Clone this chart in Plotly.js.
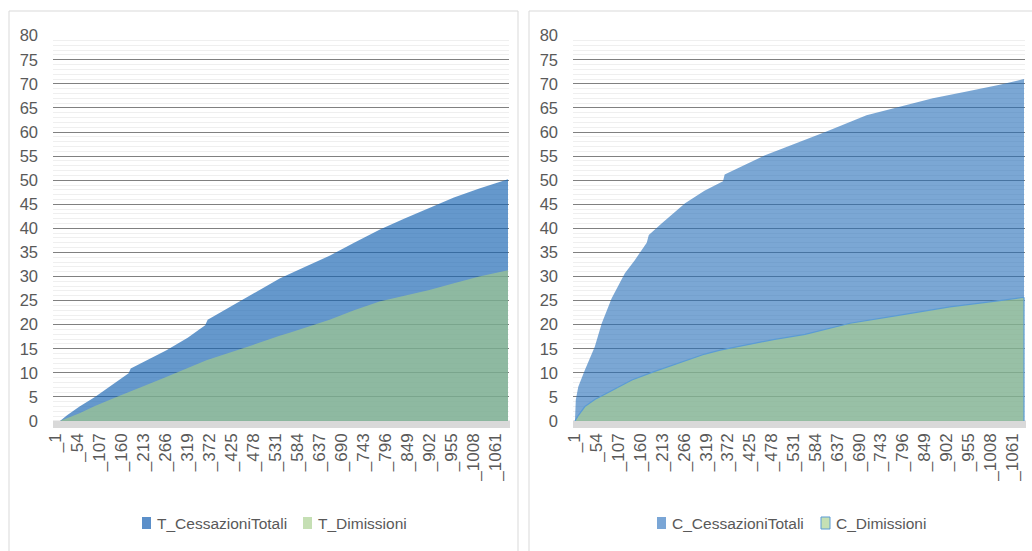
<!DOCTYPE html>
<html>
<head>
<meta charset="utf-8">
<script src="https://cdn.plot.ly/plotly-3.0.1.min.js"></script>
<style>
  html, body { margin: 0; padding: 0; background: #ffffff; }
  #chart { width: 1032px; height: 551px; }
</style>
</head>
<body>
<div id="chart"></div>
<script>
// Cumulative curves, sampled at category index positions (1..1090)
const tTotCats = [1, 13, 30, 60, 97, 140, 178, 183, 220, 269, 320, 362, 368, 420, 470, 541, 600, 661, 720, 781, 840, 901, 960, 1021, 1090];
const tTotVals = [0, 0, 1.2, 3.0, 5.0, 7.6, 9.9, 10.9, 12.6, 14.7, 17.3, 19.9, 21.0, 23.6, 26.0, 29.6, 31.9, 34.3, 37.0, 39.7, 42.0, 44.2, 46.4, 48.3, 50.2];

const tDimCats = [1, 13, 60, 97, 149, 181, 261, 365, 445, 477, 541, 565, 661, 720, 781, 840, 901, 960, 1021, 1090];
const tDimVals = [0, 0, 1.6, 3.1, 5.0, 6.1, 8.9, 12.6, 15.0, 15.8, 17.7, 18.3, 21.0, 23.0, 24.8, 26.0, 27.2, 28.6, 30.0, 31.3];

const cTotCats = [1, 3, 9, 25, 49, 66, 90, 122, 146, 175, 180, 211, 268, 315, 360, 364, 462, 559, 611, 708, 789, 869, 951, 1031, 1090];
const cTotVals = [0, 4.4, 7.1, 10.6, 15.4, 20.3, 25.5, 30.7, 33.4, 37.0, 38.6, 41.0, 45.2, 47.8, 49.8, 51.2, 55.2, 58.3, 60.1, 63.5, 65.2, 67.0, 68.4, 69.8, 71.0];

const cDimCats = [1, 8, 25, 50, 70, 100, 139, 191, 219, 270, 316, 353, 421, 482, 559, 668, 789, 910, 1031, 1090];
const cDimVals = [0, 1.0, 3.0, 4.5, 5.4, 6.8, 8.5, 10.2, 11.0, 12.6, 13.9, 14.7, 15.9, 16.9, 18.0, 20.3, 22.0, 23.7, 25.0, 25.7];

const tickCats = [1, 54, 107, 160, 213, 266, 319, 372, 425, 478, 531, 584, 637, 690, 743, 796, 849, 902, 955, 1008, 1061];
const tickLabels = ['_1', '_54', '_107', '_160', '_213', '_266', '_319', '_372', '_425', '_478', '_531', '_584', '_637', '_690', '_743', '_796', '_849', '_902', '_955', '_1008', '_1061'];

const seriesNames = ['T_CessazioniTotali', 'T_Dimissioni', 'C_CessazioniTotali', 'C_Dimissioni'];

const W = 1032, H = 551;
const px = v => v / W;          // horizontal pixel -> paper
const py = v => 1 - v / H;      // vertical pixel -> paper

const FONT = '"Liberation Sans", Arial, sans-serif';
const TXT = '#595959';

const traces = [
  { x: tTotCats, y: tTotVals, name: seriesNames[0], type: 'scatter', mode: 'lines',
    fill: 'tozeroy', fillcolor: 'rgba(18,97,177,0.65)', line: { width: 0 },
    xaxis: 'x', yaxis: 'y', hoverinfo: 'skip' },
  { x: tDimCats, y: tDimVals, name: seriesNames[1], type: 'scatter', mode: 'lines',
    fill: 'tozeroy', fillcolor: 'rgba(176,214,126,0.55)', line: { width: 0 },
    xaxis: 'x', yaxis: 'y', hoverinfo: 'skip' },
  { x: cTotCats, y: cTotVals, name: seriesNames[2], type: 'scatter', mode: 'lines',
    fill: 'tozeroy', fillcolor: 'rgba(35,108,183,0.6)', line: { width: 0 },
    xaxis: 'x2', yaxis: 'y2', hoverinfo: 'skip' },
  { x: cDimCats, y: cDimVals, name: seriesNames[3], type: 'scatter', mode: 'lines',
    fill: 'tozeroy', fillcolor: 'rgba(176,214,128,0.55)', line: { width: 1.2, color: '#5b9bd5' },
    xaxis: 'x2', yaxis: 'y2', hoverinfo: 'skip' }
];

function xAxis(domain, anchor) {
  return {
    domain: domain, anchor: anchor, range: [-3.8, 1092.4],
    tickmode: 'array', tickvals: tickCats, ticktext: tickLabels, tickangle: -90,
    showgrid: false, zeroline: false, showline: false, ticks: '',
    ticklabelstandoff: 8,
    tickfont: { family: FONT, size: 17, color: TXT }, fixedrange: true
  };
}
function yAxis(anchor) {
  return {
    domain: [py(421), py(35.7)], anchor: anchor, range: [0, 80],
    dtick: 5, tick0: 0, gridcolor: '#808080', gridwidth: 1,
    minor: { dtick: 1, showgrid: true, gridcolor: '#efefef', gridwidth: 1 },
    zeroline: false, showline: false, ticks: '', ticklabelstandoff: 14,
    tickfont: { family: FONT, size: 16.5, color: TXT }, fixedrange: true
  };
}

const lastC = cDimCats.length - 1;

const shapes = [
  // panel frames
  { type: 'rect', xref: 'paper', yref: 'paper', x0: px(9), x1: px(518), y0: py(570), y1: py(11),
    line: { color: '#d9d9d9', width: 1 }, layer: 'below' },
  { type: 'rect', xref: 'paper', yref: 'paper', x0: px(529), x1: px(1045), y0: py(570), y1: py(11),
    line: { color: '#d9d9d9', width: 1 }, layer: 'below' },
  // floors under the category axis
  { type: 'rect', xref: 'paper', yref: 'paper', x0: px(53), x1: px(510), y0: py(428), y1: py(420.5),
    fillcolor: '#d9d9d9', line: { width: 0 }, layer: 'below' },
  { type: 'rect', xref: 'paper', yref: 'paper', x0: px(573), x1: px(1026), y0: py(428), y1: py(420.5),
    fillcolor: '#d9d9d9', line: { width: 0 }, layer: 'below' },
  // closing edge of the C_Dimissioni outline
  { type: 'line', xref: 'x2', yref: 'y2', x0: cDimCats[lastC], x1: cDimCats[lastC], y0: 0, y1: cDimVals[lastC],
    line: { color: '#5b9bd5', width: 1.2 } },
  // legend swatches
  { type: 'rect', xref: 'paper', yref: 'paper', x0: px(142), x1: px(151), y0: py(529), y1: py(517),
    fillcolor: '#5b8fc9', line: { width: 0 } },
  { type: 'rect', xref: 'paper', yref: 'paper', x0: px(303), x1: px(312), y0: py(529), y1: py(517),
    fillcolor: '#c5dfb4', line: { width: 0 } },
  { type: 'rect', xref: 'paper', yref: 'paper', x0: px(657), x1: px(666), y0: py(529), y1: py(517),
    fillcolor: '#7aa6d6', line: { width: 0 } },
  { type: 'rect', xref: 'paper', yref: 'paper', x0: px(821), x1: px(830), y0: py(529), y1: py(517),
    fillcolor: '#c5e0b4', line: { width: 1, color: '#5b9bd5' } }
];

const legendPos = [155, 316, 670, 834];
const annotations = seriesNames.map((n, i) => ({
  xref: 'paper', yref: 'paper', x: px(legendPos[i]), y: py(523),
  xanchor: 'left', yanchor: 'middle', showarrow: false, text: n,
  font: { family: FONT, size: 15.5, color: TXT }
}));

const layout = {
  width: W, height: H,
  margin: { l: 0, r: 0, t: 0, b: 0 },
  paper_bgcolor: '#ffffff', plot_bgcolor: 'rgba(0,0,0,0)',
  showlegend: false,
  xaxis: xAxis([px(53), px(509)], 'y'),
  yaxis: yAxis('x'),
  xaxis2: xAxis([px(573), px(1025)], 'y2'),
  yaxis2: yAxis('x2'),
  shapes: shapes,
  annotations: annotations
};

Plotly.newPlot('chart', traces, layout, { staticPlot: true, displayModeBar: false });
</script>
</body>
</html>
